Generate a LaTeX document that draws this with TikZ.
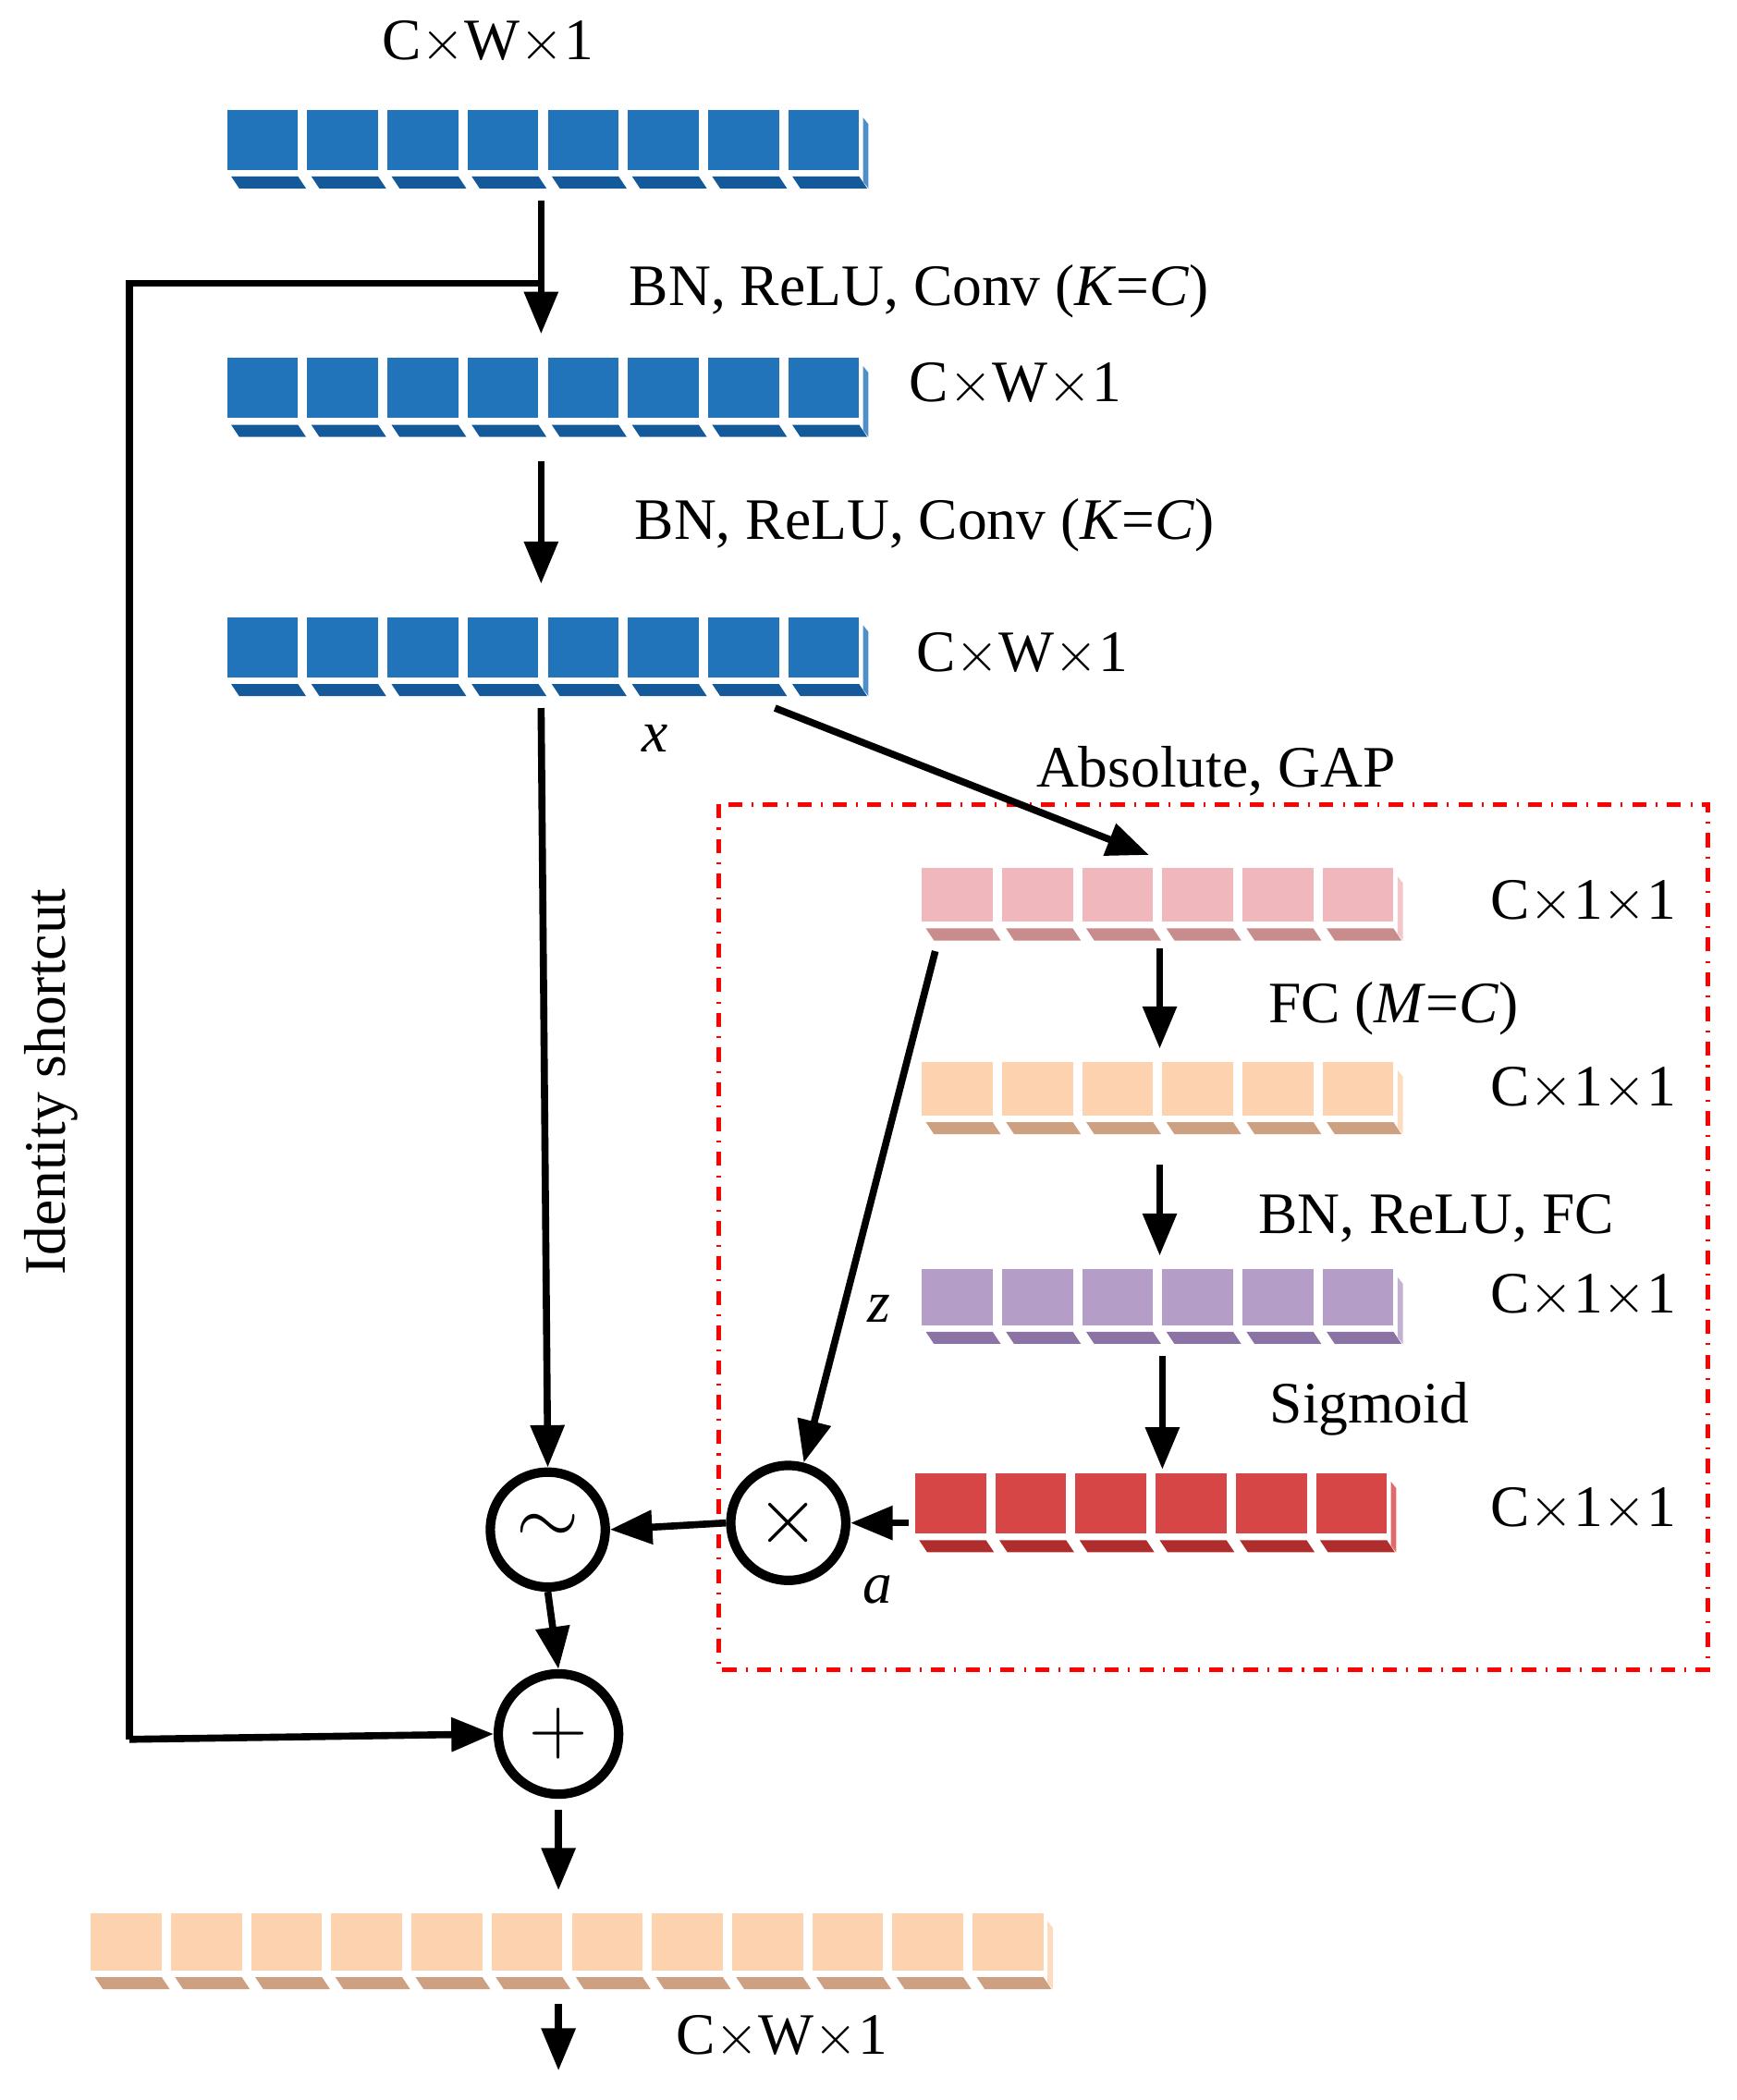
\documentclass[tikz,border=0pt]{standalone}
\usepackage{fontspec}
\setmainfont{Liberation Serif}
\usetikzlibrary{arrows.meta}
\definecolor{bl}{RGB}{33,115,186}\definecolor{bld}{RGB}{20,90,155}
\definecolor{pk}{RGB}{240,184,188}\definecolor{pkd}{RGB}{200,140,140}
\definecolor{pe}{RGB}{252,210,175}\definecolor{ped}{RGB}{205,160,130}
\definecolor{pu}{RGB}{180,158,200}\definecolor{pud}{RGB}{140,115,165}
\definecolor{rd}{RGB}{215,70,70}\definecolor{rdd}{RGB}{175,45,45}
\newcommand{\blk}[6]{% x, y(top), n, fill, dark, height
  \foreach \i in {1,...,#3}{
    \fill[#4] ({#1+(\i-1)*60},#2) rectangle ++(53,#6);
    \fill[#5] ({#1+(\i-1)*60+3},{#2+#6+5}) -- ++(50,0) -- ++(6,9) -- ++(-50,0) -- cycle;}
  \fill[#4!80] ({#1+(#3-1)*60+56},{#2+6}) -- ++(4,5) -- ++(0,{#6+3}) -- ++(-4,-5) -- cycle;}
\begin{document}
\begin{tikzpicture}[x=0.01cm,y=-0.01cm,font=\fontsize{12.5pt}{14pt}\selectfont,
  ar/.style={-{Triangle[length=9pt,width=7pt]},line width=1.5pt},
  op/.style={circle,draw,line width=2pt,minimum size=0.86cm,inner sep=0pt}]
\useasboundingbox (0,0) rectangle (1300,1572);
\blk{170}{82}{8}{bl}{bld}{45}
\blk{170}{268}{8}{bl}{bld}{45}
\blk{170}{462}{8}{bl}{bld}{45}
\blk{690}{650}{6}{pk}{pkd}{40}
\blk{690}{795}{6}{pe}{ped}{40}
\blk{690}{950}{6}{pu}{pud}{42}
\blk{685}{1103}{6}{rd}{rdd}{45}
\blk{68}{1432}{12}{pe}{ped}{43}
\draw[red,dash dot,line width=1pt] (538,602) rectangle (1278,1250);
\node[op] (t) at (410,1145) {\LARGE$\sim$};
\node[op] (m) at (590,1140) {\LARGE$\times$};
\node[op,minimum size=0.9cm] (p) at (418,1298) {\LARGE$+$};
\coordinate (a1) at (405,150); \coordinate (a2) at (405,250);
\coordinate (s1) at (405,212); \coordinate (s2) at (97,212); \coordinate (s3) at (97,1302);
\draw[ar] (a1) -- (a2);
\draw[line width=1.5pt] (s1) -- (s2) -- (s3);
\draw[ar] (s3) -- (p.west);
\draw[ar] (405,345) -- (405,437);
\draw[ar] (405,530) -- (t.north);
\draw[ar] (580,530) -- (860,640);
\draw[ar] (868,710) -- (868,785);
\draw[ar] (868,872) -- (868,940);
\draw[ar] (870,1015) -- (870,1100);
\draw[ar] (700,712) -- (m);
\draw[ar] (680,1140) -- (m.east);
\draw[ar] (m.west) -- (t.east);
\draw[ar] (t.south) -- (p.north);
\draw[ar] (418,1355) -- (418,1415);
\draw[ar] (418,1500) -- (418,1550);
\node (l1) at (365,32) {C$\times$W$\times$1};
\node (l2) at (688,218) {BN, ReLU, Conv (\textit{K}=\textit{C})};
\node (l3) at (760,288) {C$\times$W$\times$1};
\node (l4) at (692,393) {BN, ReLU, Conv (\textit{K}=\textit{C})};
\node (l5) at (765,490) {C$\times$W$\times$1};
\node (lx) at (490,553) {\textit{x}};
\node (l6) at (910,577) {Absolute, GAP};
\node (l7) at (1185,675) {C$\times$1$\times$1};
\node (l8) at (1043,755) {FC (\textit{M}=\textit{C})};
\node (l9) at (1185,815) {C$\times$1$\times$1};
\node (l10) at (1075,912) {BN, ReLU, FC};
\node (l11) at (1185,970) {C$\times$1$\times$1};
\node (lz) at (658,980) {\textit{z}};
\node (l12) at (1025,1055) {Sigmoid};
\node (l13) at (1185,1130) {C$\times$1$\times$1};
\node (la) at (657,1190) {\textit{a}};
\node[rotate=90] (l14) at (38,810) {Identity shortcut};
\node (l15) at (585,1525) {C$\times$W$\times$1};
\end{tikzpicture}
\end{document}
